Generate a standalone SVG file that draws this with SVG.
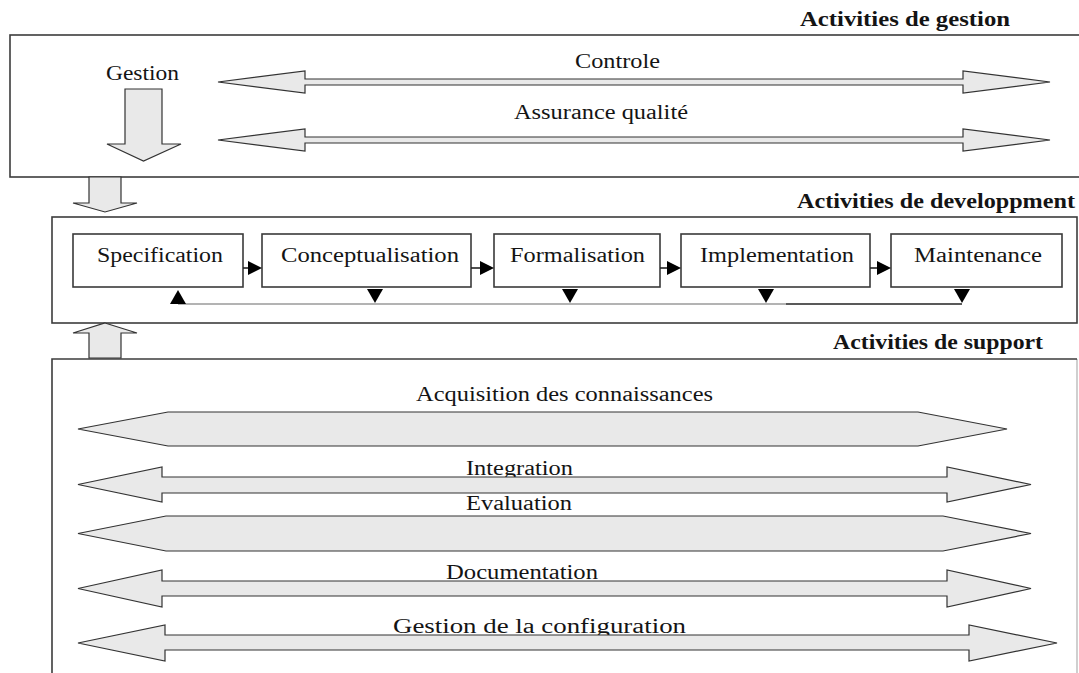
<svg xmlns="http://www.w3.org/2000/svg" width="1079" height="673" viewBox="0 0 1079 673">
  <style>
    .frame { fill: #ffffff; stroke: #3c3c3c; stroke-width: 1.6; }
    .frame-light { fill: none; stroke: #b0b0b0; stroke-width: 1.2; }
    .node { fill: #ffffff; stroke: #3a3a3a; stroke-width: 1.6; }
    .block { fill: #e9e9e9; stroke: #333333; stroke-width: 1.2; stroke-linejoin: miter; }
    .t { font-family: "Liberation Serif", "Times New Roman", serif; font-size: 20px; fill: #141414; }
    .h { font-weight: bold; }
    .flow { stroke: #222222; stroke-width: 1.6; fill: none; }
    .flow-soft { stroke: #9a9a9a; stroke-width: 1.6; fill: none; }
    .tri { fill: #000000; }
  </style>

  <rect width="1079" height="673" fill="#ffffff"/>

  <!-- Management activities -->
  <g id="gestion-activities">
    <text class="t h" x="800" y="26" textLength="210" lengthAdjust="spacingAndGlyphs">Activities de gestion</text>
    <rect class="frame" x="10" y="35" width="1080" height="142"/>
    <text class="t" x="106" y="80" textLength="73" lengthAdjust="spacingAndGlyphs">Gestion</text>
    <polygon class="block" points="125,89 162,89 162,144 181,144 143.5,161 107,144 125,144"/>
    <text class="t" x="575" y="68" textLength="85" lengthAdjust="spacingAndGlyphs">Controle</text>
    <polygon class="block" points="218,82 305,71 305,79 963,79 963,71 1050,82 963,93 963,85 305,85 305,93"/>
    <text class="t" x="514" y="119" textLength="174" lengthAdjust="spacingAndGlyphs">Assurance qualité</text>
    <polygon class="block" points="218,140 305,129 305,137 963,137 963,129 1050,140 963,151 963,143 305,143 305,151"/>
  </g>

  <!-- Development activities -->
  <g id="developpment-activities">
    <text class="t h" x="797" y="208" textLength="278" lengthAdjust="spacingAndGlyphs">Activities de developpment</text>
    <rect class="frame" x="52" y="217" width="1025" height="106"/>
  </g>

  <g id="specification">
    <rect class="node" x="73" y="234" width="170" height="53"/>
    <text class="t" x="97" y="262" textLength="126" lengthAdjust="spacingAndGlyphs">Specification</text>
  </g>
  <g id="conceptualisation">
    <rect class="node" x="262" y="234" width="209" height="53"/>
    <text class="t" x="281" y="262" textLength="178" lengthAdjust="spacingAndGlyphs">Conceptualisation</text>
  </g>
  <g id="formalisation">
    <rect class="node" x="494" y="234" width="166" height="53"/>
    <text class="t" x="510" y="262" textLength="135" lengthAdjust="spacingAndGlyphs">Formalisation</text>
  </g>
  <g id="implementation">
    <rect class="node" x="681" y="234" width="189" height="53"/>
    <text class="t" x="700" y="262" textLength="154" lengthAdjust="spacingAndGlyphs">Implementation</text>
  </g>
  <g id="maintenance">
    <rect class="node" x="891" y="234" width="171" height="53"/>
    <text class="t" x="914" y="262" textLength="128" lengthAdjust="spacingAndGlyphs">Maintenance</text>
  </g>

  <!-- Support activities -->
  <g id="support-activities">
    <text class="t h" x="833" y="349" textLength="210" lengthAdjust="spacingAndGlyphs">Activities de support</text>
    <path class="frame-light" d="M1077,359 V690"/>
    <path d="M52,690 V359 H1077" fill="none" stroke="#3c3c3c" stroke-width="1.6"/>

    <text class="t" x="416" y="401" textLength="297" lengthAdjust="spacingAndGlyphs">Acquisition des connaissances</text>
    <polygon class="block" points="78,429 168,412 918,412 1007,429 918,446 168,446"/>

    <text class="t" x="466" y="475" textLength="107" lengthAdjust="spacingAndGlyphs">Integration</text>
    <polygon class="block" points="78,484.5 162,467 162,477 947,477 947,467 1031,484.5 947,502 947,493 162,493 162,502"/>

    <text class="t" x="466" y="510" textLength="106" lengthAdjust="spacingAndGlyphs">Evaluation</text>
    <polygon class="block" points="78,533.5 166,516 943,516 1031,533.5 943,551 166,551"/>

    <text class="t" x="446" y="579" textLength="152" lengthAdjust="spacingAndGlyphs">Documentation</text>
    <polygon class="block" points="78,588.5 162,570 162,581 947,581 947,570 1031,588.5 947,607 947,596 162,596 162,607"/>

    <text class="t" x="393" y="633" textLength="293" lengthAdjust="spacingAndGlyphs">Gestion de la configuration</text>
    <polygon class="block" points="78,643 165,625 165,635 969,635 969,625 1057,643 969,661 969,650 165,650 165,661"/>
  </g>

  <!-- Connectors -->
  <g id="connectors">
    <!-- block arrows between the activity layers -->
    <polygon class="block" points="89,177 121,177 121,203 137,203 105,212 73,203 89,203"/>
    <polygon class="block" points="105,323 137,333 121,333 121,358 89,358 89,333 73,333"/>

    <!-- sequence between development steps -->
    <line class="flow" x1="243" y1="268" x2="249" y2="268"/>
    <polygon class="tri" points="248,261 262,268 248,275"/>
    <line class="flow" x1="471" y1="268" x2="481" y2="268"/>
    <polygon class="tri" points="480,261 494,268 480,275"/>
    <line class="flow" x1="660" y1="268" x2="668" y2="268"/>
    <polygon class="tri" points="667,261 681,268 667,275"/>
    <line class="flow" x1="870" y1="268" x2="878" y2="268"/>
    <polygon class="tri" points="877,261 891,268 877,275"/>

    <!-- feedback loop back to specification -->
    <line class="flow-soft" x1="178" y1="304" x2="786" y2="304"/>
    <line class="flow" x1="786" y1="304" x2="962" y2="304"/>
    <polygon class="tri" points="170,304 178,290 186,304"/>
    <polygon class="tri" points="367,289 383,289 375,303"/>
    <polygon class="tri" points="562,289 578,289 570,303"/>
    <polygon class="tri" points="758,289 774,289 766,303"/>
    <polygon class="tri" points="954,289 970,289 962,303"/>
  </g>
</svg>
